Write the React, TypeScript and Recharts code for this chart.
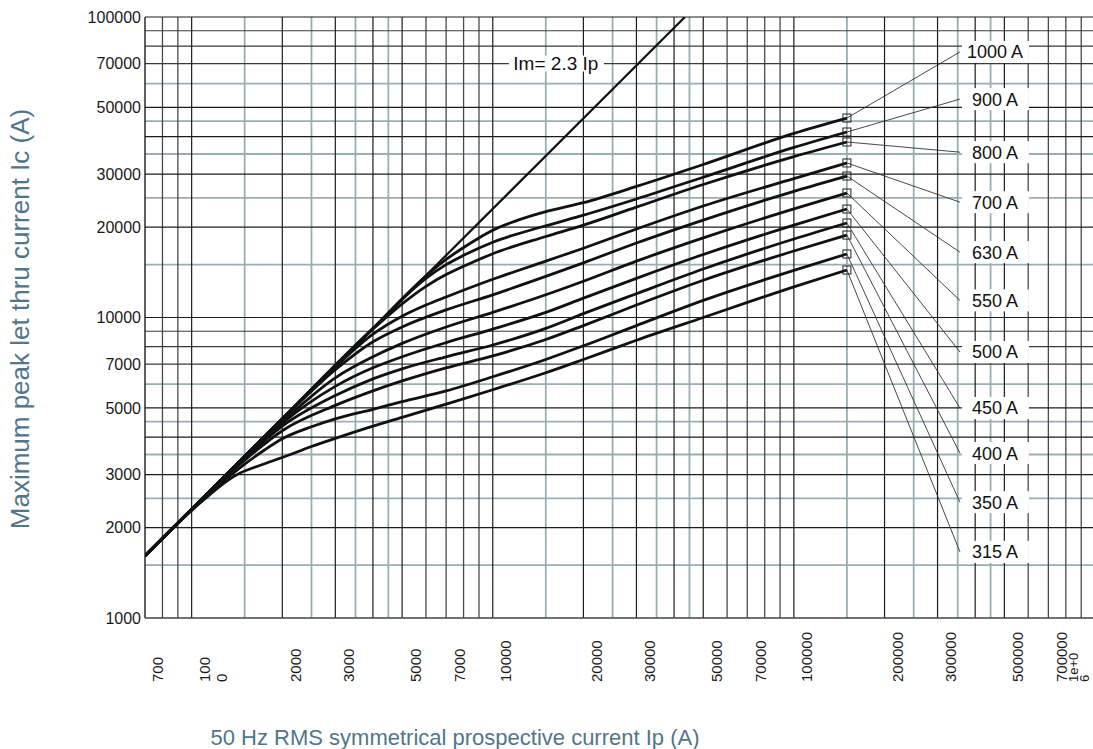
import React from "react";
import {
  ComposedChart,
  Line,
  XAxis,
  YAxis,
  CartesianGrid,
  ReferenceLine,
  ReferenceDot,
  Label,
} from "recharts";

// ---------- data ----------
const xTicks = [700, 1000, 2000, 3000, 5000, 7000, 10000, 20000, 30000, 50000, 70000, 100000, 200000, 300000, 500000, 700000, 1000000];
const xTickText = ["700", "100\n0", "2000", "3000", "5000", "7000", "10000", "20000", "30000", "50000", "70000", "100000", "200000", "300000", "500000", "700000", "1e+0\n6"];
const yTicks = [1000, 2000, 3000, 5000, 7000, 10000, 20000, 30000, 50000, 70000, 100000];

const gridXMain = [1000, 2000, 3000, 4000, 5000, 10000, 20000, 30000, 40000, 50000, 100000, 200000, 300000, 400000, 500000];
const gridXMinor = [800, 900, 6000, 7000, 8000, 9000, 60000, 70000, 80000, 90000, 600000, 700000, 800000, 900000];
const gridXHalf = [1500, 2500, 3500, 4500, 15000, 25000, 35000, 45000, 150000, 250000, 350000, 450000];
const gridYMain = [2000, 3000, 4000, 5000, 10000, 20000, 30000, 40000, 50000, 100000];
const gridYMinor = [7000, 8000, 9000, 70000, 80000, 90000];
const gridYHalf = [1500, 2500, 3500, 4500, 6000, 15000, 25000, 35000, 45000, 60000];

const ratings = ["1000 A", "900 A", "800 A", "700 A", "630 A", "550 A", "500 A", "450 A", "400 A", "350 A", "315 A"];
const labelIc = [76500, 53300, 35500, 24200, 16500, 11400, 7680, 5000, 3540, 2430, 1660];
const labelIp = 356000;

const imLine: [number, number][] = [[700, 1610], [43478, 100000]];

const c1000: [number, number][] = [[700, 1610], [1000, 2300], [2000, 4600], [4000, 9200], [6000, 13750], [7000, 15600], [8000, 17100], [9000, 18400], [10000, 19500], [12000, 21000], [15000, 22500], [20000, 24100], [30000, 27300], [50000, 32300], [100000, 41000], [150000, 46100]];
const c900: [number, number][] = [[700, 1610], [1000, 2300], [2000, 4600], [4000, 9200], [6000, 13500], [7000, 15000], [8000, 16100], [10000, 17800], [15000, 20200], [20000, 21900], [30000, 24800], [50000, 29300], [100000, 36800], [150000, 41430]];
const c800: [number, number][] = [[700, 1610], [1000, 2300], [2000, 4600], [4000, 9150], [5000, 11100], [6000, 12700], [7000, 13900], [8000, 14800], [10000, 16300], [15000, 18600], [20000, 20300], [30000, 23300], [50000, 27700], [100000, 34300], [150000, 38380]];
const c700: [number, number][] = [[700, 1610], [1000, 2300], [2000, 4600], [3000, 6850], [4000, 8800], [5000, 10100], [6000, 11000], [7000, 11700], [10000, 13400], [15000, 15400], [20000, 17000], [30000, 19700], [50000, 23500], [100000, 29000], [150000, 32680]];
const c630: [number, number][] = [[700, 1610], [1000, 2300], [2000, 4580], [3000, 6700], [4000, 8300], [5000, 9300], [7000, 10600], [10000, 11900], [15000, 13700], [20000, 15200], [30000, 17700], [50000, 21100], [100000, 26300], [150000, 29570]];
const c550: [number, number][] = [[700, 1610], [1000, 2300], [1500, 3430], [2000, 4500], [3000, 6300], [4000, 7400], [5000, 8200], [7000, 9300], [10000, 10400], [15000, 11900], [20000, 13200], [30000, 15400], [50000, 18400], [100000, 23000], [150000, 25960]];
const c500: [number, number][] = [[700, 1610], [1000, 2300], [1500, 3420], [2000, 4450], [3000, 5900], [4000, 6800], [5000, 7400], [7000, 8250], [10000, 9150], [15000, 10400], [20000, 11600], [30000, 13500], [50000, 16200], [100000, 20300], [150000, 22960]];
const c450: [number, number][] = [[700, 1610], [1000, 2300], [1500, 3400], [2000, 4350], [3000, 5500], [4000, 6250], [5000, 6750], [7000, 7400], [10000, 8100], [15000, 9200], [20000, 10300], [30000, 12000], [50000, 14500], [100000, 18250], [150000, 20630]];
const c400: [number, number][] = [[700, 1610], [1000, 2300], [1500, 3350], [2000, 4200], [3000, 5100], [4000, 5700], [5000, 6150], [7000, 6800], [10000, 7450], [15000, 8450], [20000, 9400], [30000, 11000], [50000, 13300], [100000, 16650], [150000, 18810]];
const c350: [number, number][] = [[700, 1610], [1000, 2290], [1250, 2800], [1500, 3250], [1750, 3630], [2000, 3950], [2500, 4330], [3000, 4600], [4000, 4950], [5000, 5250], [7000, 5700], [10000, 6350], [15000, 7250], [20000, 8050], [30000, 9400], [50000, 11400], [100000, 14350], [150000, 16270]];
const c315: [number, number][] = [[700, 1610], [1000, 2280], [1100, 2480], [1250, 2760], [1415, 3000], [1700, 3230], [2000, 3420], [2500, 3720], [3000, 3960], [4000, 4350], [5000, 4650], [7000, 5150], [10000, 5750], [15000, 6550], [20000, 7250], [30000, 8400], [50000, 10000], [100000, 12650], [150000, 14390]];

const curves = [c1000, c900, c800, c700, c630, c550, c500, c450, c400, c350, c315];

// ---------- helpers ----------
const toRows = (pts: [number, number][]) => pts.map(([ip, ic]) => ({ ip, ic }));
const FONT = "'Liberation Sans', Arial, Helvetica, sans-serif";
const TITLE = "#50768a";

function XTick(props: any) {
  const { x, y, payload } = props;
  const i = xTicks.indexOf(payload.value);
  const text = i >= 0 ? xTickText[i] : String(payload.value);
  const lines = text.split("\n");
  const wrapped = lines.length > 1 && x > 1080;
  const fs = wrapped ? 13 : 15;
  const cx = Math.min(x + 13, 1073);
  return (
    <g transform={`translate(${cx},${y + 64}) rotate(-90)`}>
      <text x={0} y={0} textAnchor="start" fontSize={fs} fill="#1a1a1a" fontFamily={FONT}>
        {lines.map((l, k) => (
          <tspan key={k} x={0} dy={k === 0 ? "0.36em" : wrapped ? "0.85em" : "1.15em"}>
            {l}
          </tspan>
        ))}
      </text>
    </g>
  );
}

const endSquare = (len: number, id: string) => (p: any) => {
  if (p.index !== len - 1) return <g key={`${id}-${p.index}`} />;
  return (
    <rect key={`${id}-${p.index}`} x={p.cx - 4} y={p.cy - 4} width={8} height={8} fill="none" stroke="#222" strokeWidth={1} />
  );
};

const ratingShape = (text: string) => (p: any) => (
  <g>
    <rect x={p.cx + 2} y={p.cy - 11} width={67} height={22} fill="#ffffff" />
    <text x={p.cx + 35} y={p.cy} dy="0.36em" textAnchor="middle" fontSize={18} fill="#111" fontFamily={FONT}>
      {text}
    </text>
  </g>
);

const imShape = (p: any) => (
  <g>
    <rect x={p.cx - 47} y={p.cy - 8} width={95} height={16} fill="#ffffff" />
    <text x={p.cx} y={p.cy} dy="0.36em" textAnchor="middle" fontSize={19} fill="#111" fontFamily={FONT}>
      Im= 2.3 Ip
    </text>
  </g>
);

export default function App() {
  return (
    <div style={{ position: "absolute", left: 0, top: 0, width: 1093, height: 749, overflow: "hidden", background: "#fff", fontFamily: FONT }}>
      <ComposedChart width={1100} height={749} margin={{ top: 17, right: 5, bottom: 0, left: 0 }}>
        <CartesianGrid horizontal={false} verticalValues={gridXHalf} stroke="#9aadb2" strokeWidth={1.8} />
        <CartesianGrid vertical={false} horizontalValues={gridYHalf} stroke="#9aadb2" strokeWidth={1.8} />
        <CartesianGrid horizontal={false} verticalValues={gridXMinor} stroke="#4a4a4a" strokeWidth={1.3} />
        <CartesianGrid vertical={false} horizontalValues={gridYMinor} stroke="#3a3a3a" strokeWidth={1.2} />
        <CartesianGrid horizontal={false} verticalValues={gridXMain} stroke="#1c1c1c" strokeWidth={1.2} />
        <CartesianGrid vertical={false} horizontalValues={gridYMain} stroke="#1c1c1c" strokeWidth={1.2} />
        <XAxis
          type="number"
          dataKey="ip"
          scale="log"
          domain={[700, 1000000]}
          allowDataOverflow
          ticks={xTicks}
          interval={0}
          tick={<XTick />}
          tickLine={false}
          tickSize={0}
          tickMargin={0}
          height={131}
          axisLine={{ stroke: "#444", strokeWidth: 1.6 }}
          label={
            <Label
              content={() => (
                <text x={455} y={737} dy="0.36em" textAnchor="middle" fontSize={22} fill={TITLE} fontFamily={FONT}>
                  50 Hz RMS symmetrical prospective current Ip (A)
                </text>
              )}
            />
          }
        />
        <YAxis
          type="number"
          dataKey="ic"
          scale="log"
          domain={[1000, 100000]}
          allowDataOverflow
          ticks={yTicks}
          interval={0}
          width={145}
          tickLine={false}
          tickSize={0}
          tickMargin={4}
          tick={{ fontSize: 16, fill: "#1a1a1a", fontFamily: FONT }}
          axisLine={{ stroke: "#1c1c1c", strokeWidth: 1.4 }}
          label={
            <Label
              content={() => (
                <text
                  x={20}
                  y={319}
                  dy="0.36em"
                  textAnchor="middle"
                  fontSize={26}
                  fill={TITLE}
                  fontFamily={FONT}
                  transform="rotate(-90, 20, 319)"
                >
                  Maximum peak let thru current Ic (A)
                </text>
              )}
            />
          }
        />

        <Line data={toRows(imLine)} dataKey="ic" type="linear" stroke="#111" strokeWidth={2.2} dot={false} isAnimationActive={false} />
        {curves.map((c, i) => (
          <Line
            key={ratings[i]}
            data={toRows(c)}
            dataKey="ic"
            type="monotone"
            stroke="#111"
            strokeWidth={2.8}
            dot={endSquare(c.length, ratings[i])}
            activeDot={false}
            isAnimationActive={false}
          />
        ))}

        {curves.map((c, i) => (
          <ReferenceLine
            key={`lead-${i}`}
            segment={[
              { x: c[c.length - 1][0], y: c[c.length - 1][1] },
              { x: labelIp, y: labelIc[i] },
            ]}
            stroke="#333"
            strokeWidth={0.9}
          />
        ))}
        {ratings.map((r, i) => (
          <ReferenceDot key={`lab-${i}`} x={labelIp} y={labelIc[i]} r={1} shape={ratingShape(r)} />
        ))}
        <ReferenceDot x={16200} y={70000} r={1} shape={imShape} />
      </ComposedChart>
    </div>
  );
}
